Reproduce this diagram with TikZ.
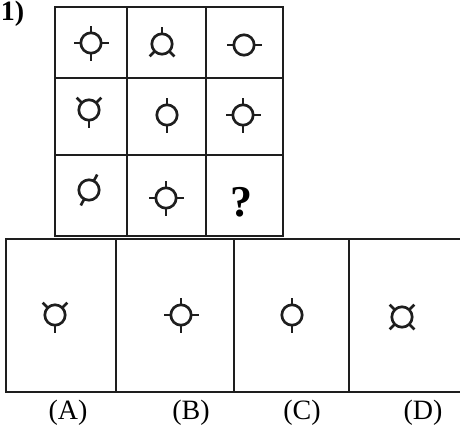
\documentclass[tikz,border=0pt]{standalone}
\usepackage{fontspec}
\setmainfont{Liberation Serif}
\definecolor{inkgray}{HTML}{1E1E1E}
\tikzset{
  dialline/.style={inkgray,line width=2pt},
  pics/dial/.style={code={
    \draw[dialline] (0,0) circle (10.2);
    \foreach \a in {#1} \draw[dialline] (\a:10.2) -- (\a:17.5);
  }}
}

\begin{document}
\begin{tikzpicture}[x=0.75pt,y=0.75pt,line cap=butt]
  \useasboundingbox (0,0) rectangle (460,430);
  % question number
  \node[anchor=west,inner sep=0pt,font=\fontsize{21}{23}\selectfont\bfseries] (qnum) at (0.5,416) {1)};
  % the 3x3 grid
  \draw[inkgray,line width=1.1pt] (55,194) rectangle (283,423);
  \draw[inkgray,line width=1.1pt] (127,194) -- (127,423);
  \draw[inkgray,line width=1.1pt] (206,194) -- (206,423);
  \draw[inkgray,line width=1.1pt] (55,352) -- (283,352);
  \draw[inkgray,line width=1.1pt] (55,275) -- (283,275);
  % row 1
  \pic at (91,387) {dial={0,90,180,270}};
  \pic at (162,386) {dial={90,225,315}};
  \pic at (244,385) {dial={0,180}};
  % row 2
  \pic at (89,320) {dial={45,135,270}};
  \pic at (167,315) {dial={90,270}};
  \pic at (243,315) {dial={0,90,180,270}};
  % row 3
  \pic at (89,240) {dial={62,242}};
  \pic at (166,232) {dial={0,90,180,270}};
  \node[font=\fontsize{33}{35}\selectfont\bfseries] (qmark) at (241,228) {?};
  % answer boxes (right side runs off the page)
  \draw[inkgray,line width=1.1pt] (6,38) rectangle (470,191);
  \draw[inkgray,line width=1.1pt] (116,38) -- (116,191);
  \draw[inkgray,line width=1.1pt] (234,38) -- (234,191);
  \draw[inkgray,line width=1.1pt] (349,38) -- (349,191);
  \pic at (55,115) {dial={45,135,270}};
  \pic at (181,115) {dial={0,90,180,270}};
  \pic at (292,115) {dial={90,270}};
  \pic at (402,113) {dial={45,135,225,315}};
  % option labels
  \node[font=\fontsize{21}{23}\selectfont] (lblA) at (68,17) {(A)};
  \node[font=\fontsize{21}{23}\selectfont] (lblB) at (191,17) {(B)};
  \node[font=\fontsize{21}{23}\selectfont] (lblC) at (302,17) {(C)};
  \node[font=\fontsize{21}{23}\selectfont] (lblD) at (423,17) {(D)};
\end{tikzpicture}
\end{document}
